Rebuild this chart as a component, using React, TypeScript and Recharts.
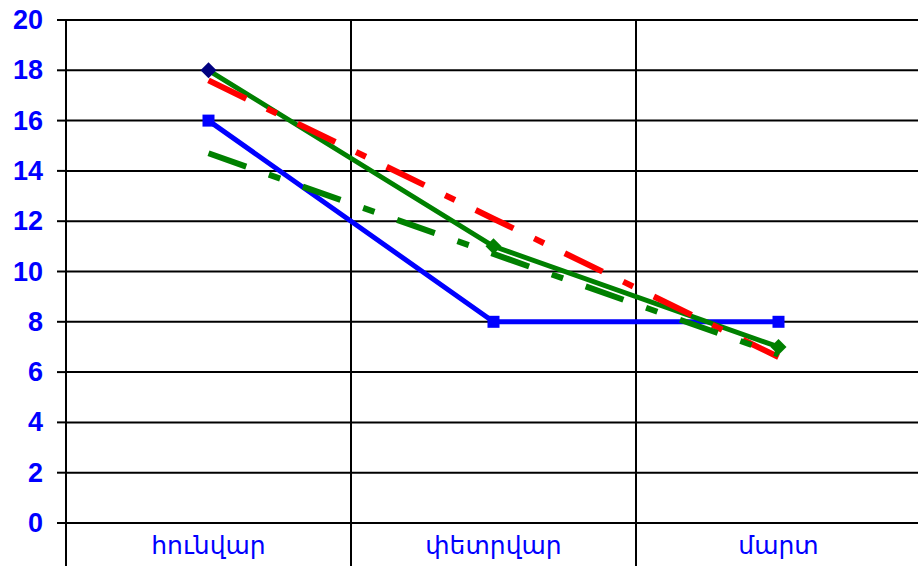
import React from 'react';
import { LineChart, Line, XAxis, YAxis, CartesianGrid } from 'recharts';

const CATEGORIES = ['հունվար', 'փետրվար', 'մարտ'];
const BLUE_SERIES = [16, 8, 8];
const GREEN_SERIES = [18, 11, 7];
const RED_TREND = [17.6, 12.1, 6.6];
const GREEN_TREND = [14.7, 10.7, 6.7];
const Y_TICKS = [0, 2, 4, 6, 8, 10, 12, 14, 16, 18, 20];

const data = CATEGORIES.map((name, i) => ({
  name,
  blue: BLUE_SERIES[i],
  green: GREEN_SERIES[i],
  redTrend: RED_TREND[i],
  greenTrend: GREEN_TREND[i],
}));

const CHART_W = 930;
const CHART_H = 566;
const MARGIN = { top: 20, right: 9, bottom: 0, left: 0 };
const Y_AXIS_W = 66;
const X_AXIS_H = 43;
const PLOT_W = CHART_W - MARGIN.left - MARGIN.right - Y_AXIS_W;
const BAND = PLOT_W / CATEGORIES.length;
const FONT = 'Arial, "Liberation Sans", "DejaVu Sans", sans-serif';

const Square = (props: any) => {
  const { cx, cy } = props;
  if (cx == null || cy == null) return null;
  return <rect x={cx - 6} y={cy - 6} width={12} height={12} fill="#0000FF" />;
};

const Diamond = (props: any) => {
  const { cx, cy, index } = props;
  if (cx == null || cy == null) return null;
  const r = 8;
  return (
    <polygon
      points={`${cx},${cy - r} ${cx + r},${cy} ${cx},${cy + r} ${cx - r},${cy}`}
      fill={index === 0 ? '#000080' : '#008000'}
    />
  );
};

const XTick = (props: any) => {
  const { x, y, payload } = props;
  const left = x - BAND / 2;
  return (
    <g>
      <line x1={left} y1={y} x2={left} y2={y + X_AXIS_H} stroke="#000" strokeWidth={2} />
      <text
        x={x}
        y={y + 31}
        textAnchor="middle"
        fill="#0000FF"
        fontSize={25}
        fontFamily={FONT}
      >
        {payload.value}
      </text>
    </g>
  );
};

const YTick = (props: any) => {
  const { x, y, payload } = props;
  return (
    <text
      x={x}
      y={y + 9}
      textAnchor="end"
      fill="#0000FF"
      fontSize={27}
      fontWeight="bold"
      fontFamily={FONT}
    >
      {payload.value}
    </text>
  );
};

export default function App() {
  return (
    <div style={{ position: 'absolute', left: 0, top: 0, width: 918, height: 566, overflow: 'hidden', background: '#fff' }}>
      <LineChart width={CHART_W} height={CHART_H} data={data} margin={MARGIN}>
        <CartesianGrid
          stroke="#000"
          strokeWidth={2}
          verticalCoordinatesGenerator={({ offset }: any) =>
            [0, 1, 2, 3].map((i) => offset.left + (i * offset.width) / CATEGORIES.length)
          }
        />
        <XAxis
          dataKey="name"
          scale="band"
          height={X_AXIS_H}
          tickSize={0}
          tickMargin={0}
          tickLine={false}
          axisLine={{ stroke: '#000', strokeWidth: 2 }}
          tick={<XTick />}
          interval={0}
        />
        <YAxis
          domain={[0, 20]}
          ticks={Y_TICKS}
          interval={0}
          width={Y_AXIS_W}
          tickSize={9}
          tickMargin={14}
          axisLine={{ stroke: '#000', strokeWidth: 2 }}
          tickLine={{ stroke: '#000', strokeWidth: 2 }}
          tick={<YTick />}
        />
        <Line
          dataKey="blue"
          stroke="#0000FF"
          strokeWidth={5}
          dot={<Square />}
          activeDot={false}
          isAnimationActive={false}
        />
        <Line
          dataKey="green"
          stroke="#008000"
          strokeWidth={5}
          dot={<Diamond />}
          activeDot={false}
          isAnimationActive={false}
        />
        <Line
          dataKey="redTrend"
          stroke="#FF0000"
          strokeWidth={6}
          strokeDasharray="42 23 11 23"
          dot={false}
          activeDot={false}
          isAnimationActive={false}
        />
        <Line
          dataKey="greenTrend"
          stroke="#008000"
          strokeWidth={6}
          strokeDasharray="40 24 12 24"
          dot={false}
          activeDot={false}
          isAnimationActive={false}
        />
      </LineChart>
    </div>
  );
}
